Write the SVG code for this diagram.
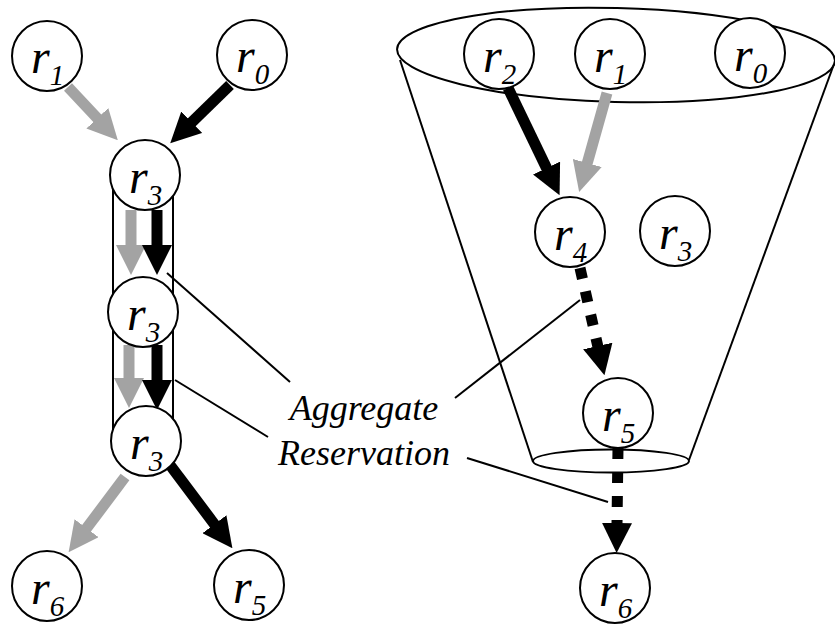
<svg xmlns="http://www.w3.org/2000/svg" width="835" height="628" viewBox="0 0 835 628">
<style>
.node circle{fill:#fff;stroke:#000;stroke-width:2}
.node text{font-family:"Liberation Serif","Times New Roman",serif;font-style:italic;font-size:48px;fill:#000}
.node tspan{font-size:29px}
.blk{stroke:#000;stroke-width:11;fill:none}
.gry{stroke:#a3a3a3;stroke-width:11;fill:none}
.dsh{stroke:#000;stroke-width:11;fill:none;stroke-dasharray:11 13}
.thin{stroke:#000;stroke-width:2;fill:none}
.lbl{font-family:"Liberation Serif","Times New Roman",serif;font-style:italic;font-size:36px;fill:#000}
</style>
<defs>
<marker id="hb" viewBox="0 0 30 30" markerWidth="30" markerHeight="30" markerUnits="userSpaceOnUse" refX="1" refY="15" orient="auto"><path d="M0,0 L30,15 L0,30 z" fill="#000"/></marker>
<marker id="hg" viewBox="0 0 30 30" markerWidth="30" markerHeight="30" markerUnits="userSpaceOnUse" refX="1" refY="15" orient="auto"><path d="M0,0 L30,15 L0,30 z" fill="#a3a3a3"/></marker>
</defs>
<rect width="835" height="628" fill="#fff"/>
<g id="cone" class="thin">
<line x1="400" y1="60" x2="533" y2="462"/>
<line x1="834" y1="64" x2="689" y2="460"/>
<ellipse cx="616" cy="55" rx="219" ry="47" transform="rotate(1.5 616 55)"/>
<ellipse cx="611" cy="461" rx="78" ry="11.5" fill="#fff"/>
</g>
<g id="pill"><rect x="113" y="180" width="60" height="255" class="thin" fill="#fff"/></g>
<g id="callouts" class="thin">
<line x1="167" y1="273" x2="290" y2="382"/>
<line x1="175" y1="380" x2="268" y2="437"/>
<line x1="455" y1="398" x2="580" y2="300"/>
<line x1="467" y1="458" x2="608" y2="502"/>
</g>
<g id="connectors">
<line class="gry" x1="68" y1="87" x2="98" y2="119" marker-end="url(#hg)"/>
<line class="blk" x1="230" y1="85" x2="191" y2="123" marker-end="url(#hb)"/>
<line class="gry" x1="131" y1="210" x2="131" y2="246" marker-end="url(#hg)"/>
<line class="blk" x1="157" y1="210" x2="157" y2="246" marker-end="url(#hb)"/>
<line class="gry" x1="129" y1="345" x2="129" y2="379" marker-end="url(#hg)"/>
<line class="blk" x1="157" y1="345" x2="157" y2="381" marker-end="url(#hb)"/>
<line class="gry" x1="125" y1="477" x2="86" y2="529" marker-end="url(#hg)"/>
<line class="blk" x1="170" y1="465" x2="215" y2="525" marker-end="url(#hb)"/>
<line class="blk" x1="508" y1="88" x2="547" y2="169" marker-end="url(#hb)"/>
<line class="gry" x1="607" y1="93" x2="587" y2="164" marker-end="url(#hg)"/>
<line class="dsh" x1="580" y1="268" x2="598" y2="347" marker-end="url(#hb)"/>
<line class="dsh" x1="618" y1="448" x2="617" y2="524" marker-end="url(#hb)"/>
</g>
<g id="L_r1" class="node"><circle cx="47" cy="56" r="35"/><text x="31" y="73">r<tspan dy="12">1</tspan></text></g>
<g id="L_r0" class="node"><circle cx="252" cy="55" r="35"/><text x="236" y="72">r<tspan dy="12">0</tspan></text></g>
<g id="L_r3a" class="node"><circle cx="145" cy="175" r="35"/><text x="129" y="193">r<tspan dy="12">3</tspan></text></g>
<g id="L_r3b" class="node"><circle cx="143" cy="312" r="35"/><text x="127" y="330">r<tspan dy="12">3</tspan></text></g>
<g id="L_r3c" class="node"><circle cx="146" cy="441" r="35"/><text x="130" y="459">r<tspan dy="12">3</tspan></text></g>
<g id="L_r6" class="node"><circle cx="47" cy="586" r="35"/><text x="31" y="604">r<tspan dy="12">6</tspan></text></g>
<g id="L_r5" class="node"><circle cx="249" cy="585" r="35"/><text x="233" y="603">r<tspan dy="12">5</tspan></text></g>
<g id="R_r2" class="node"><circle cx="499" cy="54" r="35"/><text x="483" y="72">r<tspan dy="12">2</tspan></text></g>
<g id="R_r1" class="node"><circle cx="610" cy="54" r="35"/><text x="594" y="72">r<tspan dy="12">1</tspan></text></g>
<g id="R_r0" class="node"><circle cx="750" cy="53" r="35"/><text x="734" y="71">r<tspan dy="12">0</tspan></text></g>
<g id="R_r4" class="node"><circle cx="570" cy="232" r="35"/><text x="554" y="250">r<tspan dy="12">4</tspan></text></g>
<g id="R_r3" class="node"><circle cx="675" cy="231" r="35"/><text x="659" y="249">r<tspan dy="12">3</tspan></text></g>
<g id="R_r5" class="node"><circle cx="618" cy="413" r="35"/><text x="602" y="431">r<tspan dy="12">5</tspan></text></g>
<g id="R_r6" class="node"><circle cx="615" cy="588" r="35"/><text x="599" y="606">r<tspan dy="12">6</tspan></text></g>
<g id="label">
<text class="lbl" x="364" y="420" text-anchor="middle">Aggregate</text>
<text class="lbl" x="364" y="465" text-anchor="middle">Reservation</text>
</g>
</svg>
